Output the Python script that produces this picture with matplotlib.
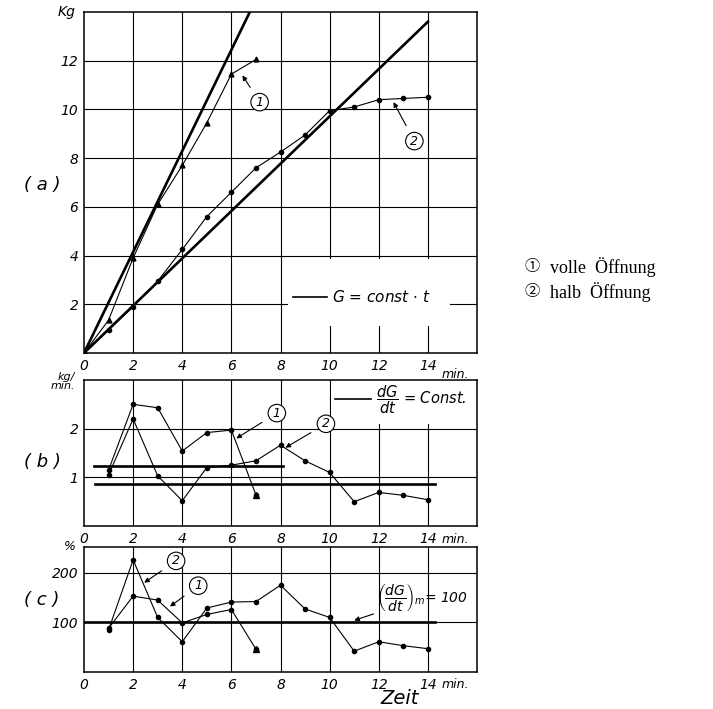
import matplotlib
matplotlib.use("Agg")
import matplotlib.pyplot as plt
from matplotlib.patches import Rectangle

# ---------- data ----------
# (a) collected mass G [kg] over time [min]
t_full = [0, 1, 2, 3, 4, 5, 6, 7]
G_full = [0, 1.35, 3.9, 6.1, 7.7, 9.45, 11.45, 12.05]
t_half = [0, 1, 2, 3, 4, 5, 6, 7, 8, 9, 10, 11, 12, 13, 14]
G_half = [0, 0.95, 1.9, 2.95, 4.25, 5.6, 6.6, 7.6, 8.25, 8.95, 9.95, 10.1, 10.4, 10.45, 10.5]
# G = const * t reference lines
lin_full_t = [0, 6.75]
lin_full_G = [0, 14.0]
lin_half_t = [0, 14]
lin_half_G = [0, 13.6]

# (b) dG/dt [kg/min]
rt_full = [1, 2, 3, 4, 5, 6, 7]
rate_full = [1.15, 2.5, 2.43, 1.54, 1.92, 1.97, 0.64]
rt_half = [1, 2, 3, 4, 5, 6, 7, 8, 9, 10, 11, 12, 13, 14]
rate_half = [1.05, 2.2, 1.03, 0.52, 1.2, 1.25, 1.34, 1.66, 1.34, 1.1, 0.5, 0.69, 0.63, 0.54]
const_full_t = [0.4, 8.1]
const_full = [1.24, 1.24]
const_half_t = [0.45, 14.3]
const_half = [0.86, 0.86]

# (c) dG/dt relative to mean [%]
pct_full = [88, 153, 145, 99, 116, 126, 46]
pct_half = [85, 226, 110, 61, 129, 141, 142, 175, 127, 110, 42, 61, 53, 47]
ref_t = [0, 14.3]
ref_pct = [100, 100]

x_ticks = [0, 2, 4, 6, 8, 10, 12, 14]
x_labels = ["0", "2", "4", "6", "8", "10", "12", "14"]

# ---------- style ----------
HAND = dict(family="DejaVu Sans", style="italic")
plt.rcParams["mathtext.fontset"] = "custom"
plt.rcParams["mathtext.it"] = "DejaVu Sans:italic"
plt.rcParams["mathtext.rm"] = "DejaVu Sans:italic"
K = "black"

fig = plt.figure(figsize=(7.13, 7.09), dpi=100)
W, H = 713, 709


def px_axes(l, t, r, b):
    return fig.add_axes([l / W, 1 - b / H, (r - l) / W, (b - t) / H])


def frame(ax, ylim, yticks, ylabels):
    ax.set_xlim(0, 16)
    ax.set_ylim(*ylim)
    for x in x_ticks[1:]:
        ax.axvline(x, color=K, lw=0.8, zorder=1)
    for y in yticks:
        ax.axhline(y, color=K, lw=0.8, zorder=1)
    for s in ax.spines.values():
        s.set_linewidth(1.1)
    ax.set_xticks(x_ticks)
    ax.set_xticklabels(x_labels, fontsize=10, **HAND)
    ax.set_yticks(yticks)
    ax.set_yticklabels(ylabels, fontsize=10, **HAND)
    ax.tick_params(length=0, pad=4)
    ax.text(14.55, -0.045, "min.", transform=ax.get_xaxis_transform(),
            ha="left", va="top", fontsize=9, **HAND)


def circ(ax, txt, xy, xytext):
    ax.annotate(txt, xy=xy, xytext=xytext, fontsize=9, ha="center", va="center",
                bbox=dict(boxstyle="circle,pad=0.18", fc="white", ec=K, lw=0.8),
                arrowprops=dict(arrowstyle="-|>", color=K, lw=0.8, mutation_scale=7,
                                shrinkA=6, shrinkB=0), zorder=5, **HAND)


# ---------- (a) ----------
axa = px_axes(84, 12, 477, 353)
frame(axa, (0, 14), [2, 4, 6, 8, 10, 12], ["2", "4", "6", "8", "10", "12"])
axa.plot(lin_full_t, lin_full_G, color=K, lw=1.9, zorder=3)
axa.plot(lin_half_t, lin_half_G, color=K, lw=1.9, zorder=3)
axa.plot(t_full, G_full, color=K, lw=0.8, marker="^", ms=3.5, zorder=4)
axa.plot(t_half, G_half, color=K, lw=0.8, marker="o", ms=3, zorder=4)
circ(axa, "1", (6.45, 11.4), (7.15, 10.3))
circ(axa, "2", (12.6, 10.3), (13.45, 8.7))
axa.add_patch(Rectangle((8.3, 1.1), 6.6, 2.75, fc="white", ec="none", zorder=2))
axa.plot([8.5, 9.9], [2.3, 2.3], color=K, lw=1.2, zorder=3)
axa.text(10.1, 2.3, r"G = const $\cdot$ t", ha="left", va="center", fontsize=11, zorder=3, **HAND)
axa.text(-0.35, 14, "Kg", ha="right", va="center", fontsize=10, **HAND)
fig.text(42 / W, 1 - 185 / H, "( a )", ha="center", va="center", fontsize=13, **HAND)

# ---------- (b) ----------
axb = px_axes(84, 380, 477, 526)
frame(axb, (0, 3), [1, 2], ["1", "2"])
axb.plot(const_full_t, const_full, color=K, lw=1.9, zorder=3)
axb.plot(const_half_t, const_half, color=K, lw=1.9, zorder=3)
axb.plot(rt_full, rate_full, color=K, lw=0.8, marker="o", ms=3, zorder=4)
axb.plot(rt_full[-1:], rate_full[-1:], ls="none", color=K, marker="^", ms=4, zorder=4)
axb.plot(rt_half, rate_half, color=K, lw=0.8, marker="o", ms=3, zorder=4)
circ(axb, "1", (6.2, 1.8), (7.85, 2.32))
circ(axb, "2", (8.2, 1.61), (9.85, 2.1))
axb.add_patch(Rectangle((10.05, 2.1), 5.9, 0.89, fc="white", ec="none", zorder=2))
axb.plot([10.2, 11.7], [2.6, 2.6], color=K, lw=1.2, zorder=3)
axb.text(11.9, 2.6, r"$\dfrac{dG}{dt}$ = Const.", ha="left", va="center", fontsize=10.5, zorder=3, **HAND)
axb.text(-0.35, 2.97, "kg/\nmin.", ha="right", va="center", fontsize=8, linespacing=0.8, **HAND)
fig.text(42 / W, 1 - 462 / H, "( b )", ha="center", va="center", fontsize=13, **HAND)

# ---------- (c) ----------
axc = px_axes(84, 547, 477, 672)
frame(axc, (0, 252), [100, 200], ["100", "200"])
axc.plot(ref_t, ref_pct, color=K, lw=1.9, zorder=3)
axc.plot(rt_full, pct_full, color=K, lw=0.8, marker="o", ms=3, zorder=4)
axc.plot(rt_full[-1:], pct_full[-1:], ls="none", color=K, marker="^", ms=4, zorder=4)
axc.plot(rt_half, pct_half, color=K, lw=0.8, marker="o", ms=3, zorder=4)
circ(axc, "2", (2.45, 180), (3.75, 224))
circ(axc, "1", (3.5, 132), (4.65, 174))
axc.annotate(r"$\left(\dfrac{dG}{dt}\right)_{m}$= 100", xy=(11.0, 104), xytext=(11.9, 150),
             fontsize=10, ha="left", va="center",
             arrowprops=dict(arrowstyle="-|>", color=K, lw=0.8, mutation_scale=7,
                             shrinkA=0, shrinkB=0), zorder=5, **HAND)
axc.text(-0.35, 252, "%", ha="right", va="center", fontsize=9, **HAND)
fig.text(42 / W, 1 - 600 / H, "( c )", ha="center", va="center", fontsize=13, **HAND)
fig.text(400 / W, 1 - 698 / H, "Zeit", ha="center", va="center", fontsize=14, **HAND)

# ---------- legend on the right ----------
SERIF = ["Liberation Serif", "Noto Sans CJK JP"]
fig.text(532 / W, 1 - 267 / H, "\u2460", ha="center", va="center", fontsize=11, family=SERIF)
fig.text(550 / W, 1 - 267 / H, "volle  \u00d6ffnung", ha="left", va="center", fontsize=13, family=SERIF)
fig.text(532 / W, 1 - 292 / H, "\u2461", ha="center", va="center", fontsize=11, family=SERIF)
fig.text(550 / W, 1 - 292 / H, "halb  \u00d6ffnung", ha="left", va="center", fontsize=13, family=SERIF)

fig.savefig("out.png", dpi=100)
